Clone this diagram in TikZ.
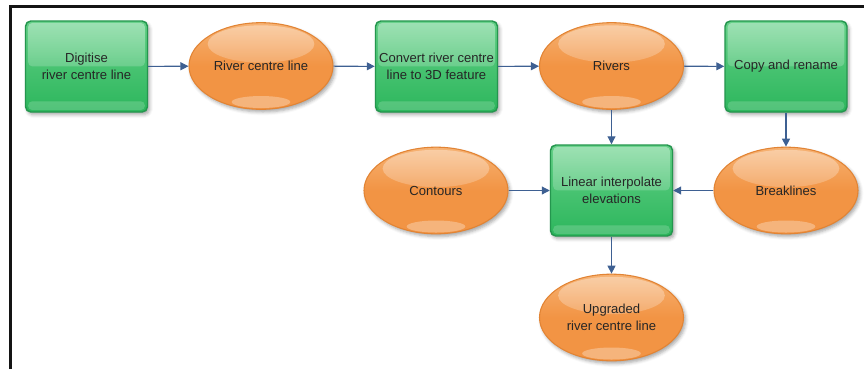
\documentclass[tikz,border=0pt]{standalone}
\usepackage{fontspec}
\setmainfont{Liberation Sans}
\usetikzlibrary{arrows.meta,shapes.geometric,shadows.blur,fadings}

\definecolor{boxgreen}{RGB}{44,182,92}
\definecolor{boxgreenlight}{RGB}{100,208,135}
\definecolor{boxgreenedge}{RGB}{36,150,78}
\definecolor{ovalorange}{RGB}{242,148,68}
\definecolor{ovalorangelight}{RGB}{246,178,115}
\definecolor{ovalorangeedge}{RGB}{226,132,52}
\definecolor{flowarrow}{RGB}{62,96,146}
\definecolor{labeltext}{RGB}{38,38,38}
\definecolor{framecol}{RGB}{20,20,20}

% soft white gloss, strongest at the top
\tikzfading[name=glossfade, top color=transparent!62, bottom color=transparent!100]

\begin{document}
\begin{tikzpicture}[x=0.75pt, y=-0.75pt,
  labelfont/.style={font=\fontsize{9.8}{12.8}\selectfont, text=labeltext, align=center},
  softshadow/.style={blur shadow={shadow xshift=1.5pt, shadow yshift=-2pt,
      shadow blur radius=2.5pt, shadow opacity=35}},
  stepbox/.style={rectangle, rounded corners=4pt, draw=boxgreenedge, line width=1.1pt,
      top color=boxgreenlight, bottom color=boxgreen,
      minimum width=91.5pt, minimum height=68.25pt, inner sep=2pt,
      labelfont, softshadow,
      path picture={
        \fill[white, path fading=glossfade, rounded corners=3pt]
          ([xshift=2pt,yshift=-1.5pt]path picture bounding box.north west) rectangle
          ([xshift=-2pt,yshift=-34pt]path picture bounding box.north east);
        \fill[white, opacity=0.18, rounded corners=3pt]
          ([xshift=2pt,yshift=8pt]path picture bounding box.south west) rectangle
          ([xshift=-2pt,yshift=1.5pt]path picture bounding box.south east);
      }},
  dataoval/.style={ellipse, draw=ovalorangeedge, line width=0.8pt,
      top color=ovalorangelight, bottom color=ovalorange, middle color=ovalorange,
      minimum width=108pt, minimum height=65pt, inner sep=0pt,
      labelfont, softshadow,
      path picture={
        \fill[white, path fading=glossfade]
          ([yshift=-16pt]path picture bounding box.north) ellipse [x radius=40pt, y radius=14pt];
        \fill[white, opacity=0.3]
          ([yshift=5.5pt]path picture bounding box.south) ellipse [x radius=22pt, y radius=4.5pt];
      }},
  flow/.style={draw=flowarrow, line width=0.8pt,
      -{Triangle[length=6pt, width=6pt]}}
]
\useasboundingbox (0,0) rectangle (864,369);

% outer frame (top and left edges)
\draw[framecol, line width=2pt] (10.5,369) -- (10.5,6.5) -- (864,6.5);

% top row
\node[stepbox]  (digitise) at (86.5,66.5) {Digitise\\river centre line};
\node[dataoval] (rcline)   at (261,66)    {River centre line};
\node[stepbox]  (convert)  at (436.5,66.5) {Convert river centre\\line to 3D feature};
\node[dataoval] (rivers)   at (611.5,66)  {Rivers};
\node[stepbox]  (copy)     at (786,66.5)  {Copy and rename};

% middle row
\node[dataoval] (contours)   at (436,190.5)   {Contours};
\node[stepbox]  (interp)     at (611.5,190.5) {Linear interpolate\\elevations};
\node[dataoval] (breaklines) at (786,190.5)   {Breaklines};

% result
\node[dataoval] (upgraded) at (611.5,317.5) {Upgraded\\river centre line};

% connectors
\draw[flow] (digitise) -- (rcline);
\draw[flow] (rcline) -- (convert);
\draw[flow] (convert) -- (rivers);
\draw[flow] (rivers) -- (copy);
\draw[flow] (rivers) -- (interp);
\draw[flow] (copy) -- (breaklines);
\draw[flow] (contours) -- (interp);
\draw[flow] (breaklines) -- (interp);
\draw[flow] (interp) -- (upgraded);
\end{tikzpicture}
\end{document}
